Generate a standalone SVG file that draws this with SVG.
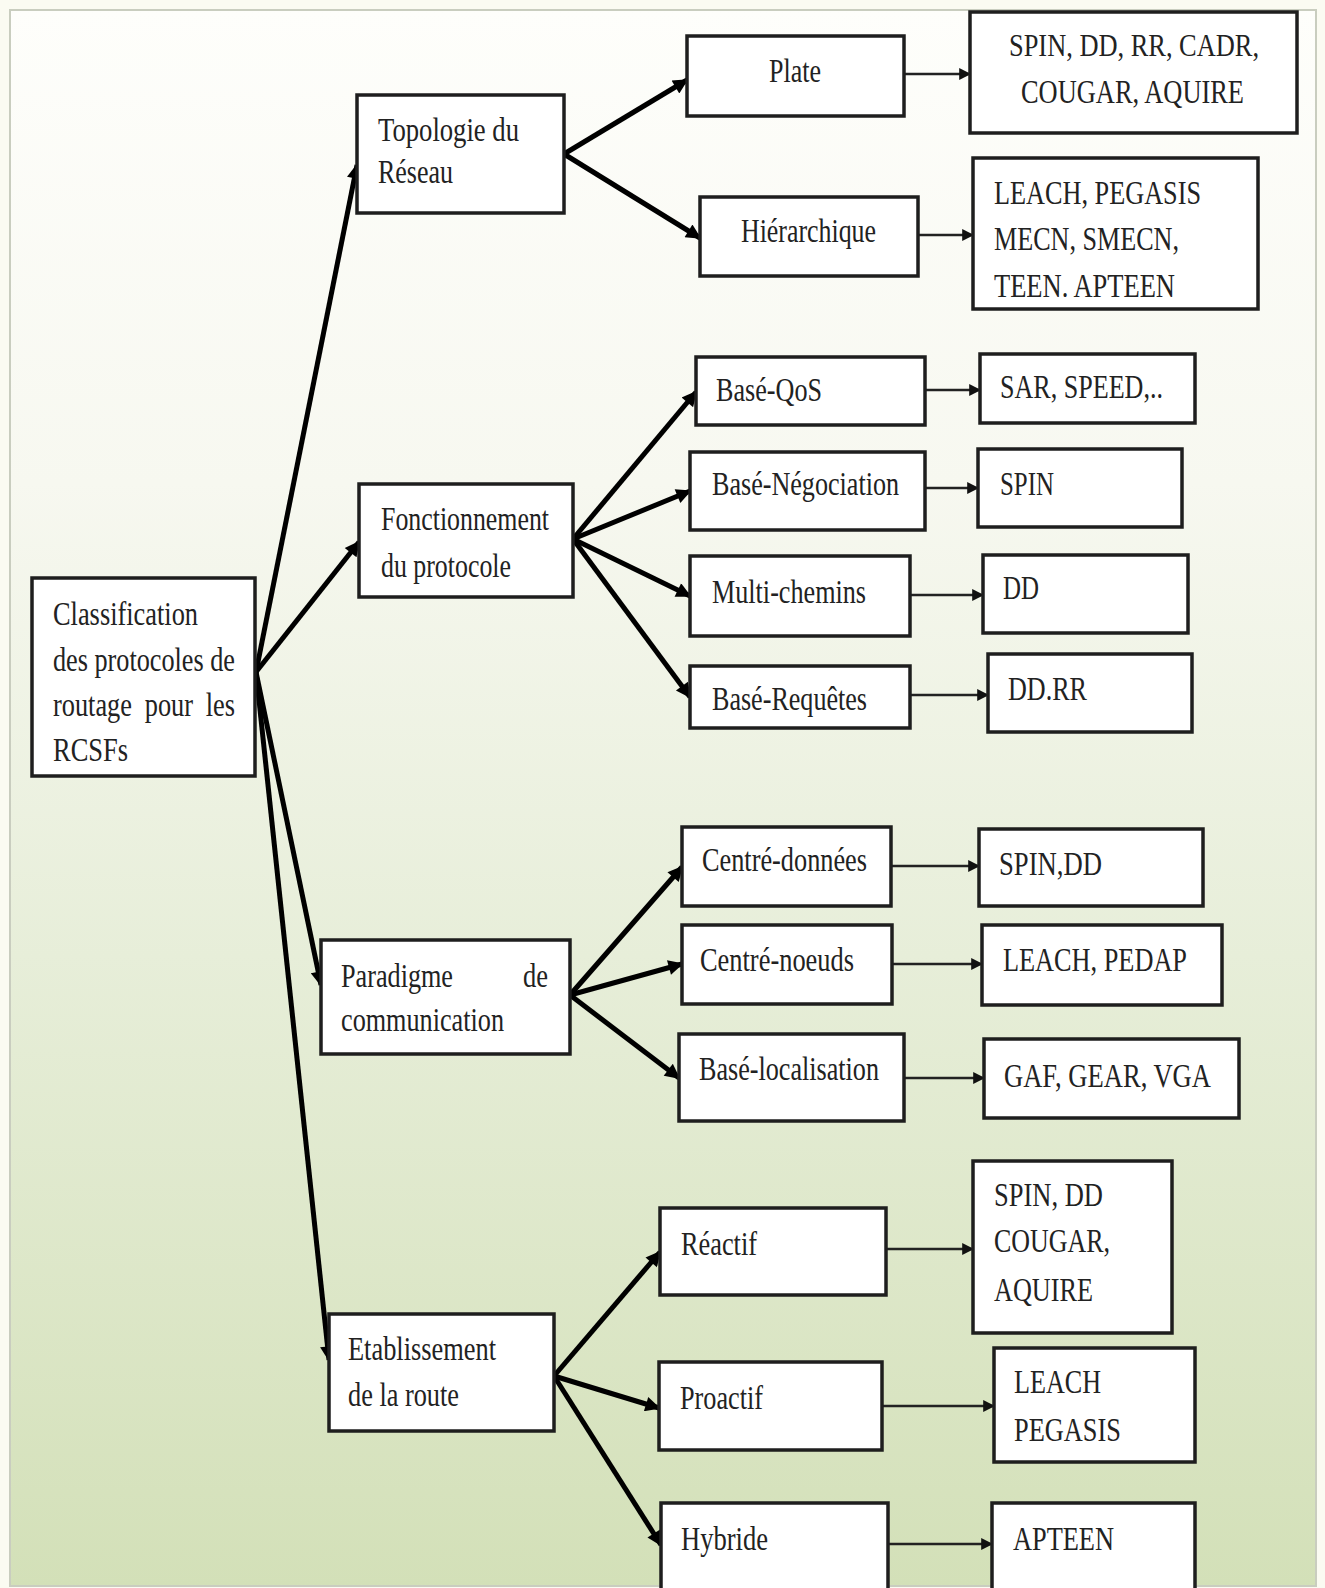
<svg xmlns="http://www.w3.org/2000/svg" width="1325" height="1588" viewBox="0 0 1325 1588">
<defs>
<linearGradient id="bg" x1="0" y1="0" x2="0" y2="1">
<stop offset="0" stop-color="#fefefb"/>
<stop offset="0.3" stop-color="#f7f8f0"/>
<stop offset="0.6" stop-color="#e7eed9"/>
<stop offset="1" stop-color="#d3e0b8"/>
</linearGradient>
<marker id="ah" viewBox="0 0 10 10" refX="9" refY="5" markerWidth="20" markerHeight="15" markerUnits="userSpaceOnUse" orient="auto"><path d="M0,0 L10,5 L0,10 z" fill="#000"/></marker>
<marker id="ahs" viewBox="0 0 10 10" refX="9" refY="5" markerWidth="12" markerHeight="12" markerUnits="userSpaceOnUse" orient="auto"><path d="M0,0 L10,5 L0,10 z" fill="#111"/></marker>
<style>
.box{fill:#fff;stroke:#1e1e1e;stroke-width:3.5}
.t{font-family:"Liberation Serif","Times New Roman",serif;font-size:34px;fill:#222}
.thick{stroke:#000;stroke-width:5;fill:none;marker-end:url(#ah)}
.thin{stroke:#222;stroke-width:2.5;fill:none;marker-end:url(#ahs)}
</style>
</defs>
<rect x="0" y="0" width="1325" height="1588" fill="#fbfbf2"/>
<rect x="10" y="10" width="1306" height="1576" fill="url(#bg)" stroke="#c9cdbf" stroke-width="2"/>

<g id="connectors">
<line class="thick" x1="256" y1="672" x2="357" y2="165"/>
<line class="thick" x1="256" y1="672" x2="359" y2="542"/>
<line class="thick" x1="256" y1="672" x2="321" y2="985"/>
<line class="thick" x1="256" y1="672" x2="329" y2="1360"/>
<line class="thick" x1="564" y1="154" x2="687" y2="80"/>
<line class="thick" x1="564" y1="154" x2="700" y2="238"/>
<line class="thick" x1="573" y1="539" x2="696" y2="392"/>
<line class="thick" x1="573" y1="539" x2="690" y2="491"/>
<line class="thick" x1="573" y1="539" x2="690" y2="596"/>
<line class="thick" x1="573" y1="539" x2="690" y2="697"/>
<line class="thick" x1="570" y1="995" x2="682" y2="867"/>
<line class="thick" x1="570" y1="995" x2="682" y2="964"/>
<line class="thick" x1="570" y1="995" x2="679" y2="1078"/>
<line class="thick" x1="554" y1="1376" x2="660" y2="1252"/>
<line class="thick" x1="554" y1="1376" x2="659" y2="1408"/>
<line class="thick" x1="554" y1="1376" x2="661" y2="1545"/>
<line class="thin" x1="904" y1="74" x2="970" y2="74"/>
<line class="thin" x1="918" y1="235" x2="973" y2="235"/>
<line class="thin" x1="925" y1="390" x2="980" y2="390"/>
<line class="thin" x1="925" y1="488" x2="978" y2="488"/>
<line class="thin" x1="910" y1="595" x2="983" y2="595"/>
<line class="thin" x1="910" y1="695" x2="988" y2="695"/>
<line class="thin" x1="891" y1="866" x2="979" y2="866"/>
<line class="thin" x1="892" y1="964" x2="982" y2="964"/>
<line class="thin" x1="904" y1="1078" x2="984" y2="1078"/>
<line class="thin" x1="886" y1="1249" x2="973" y2="1249"/>
<line class="thin" x1="882" y1="1406" x2="994" y2="1406"/>
<line class="thin" x1="888" y1="1544" x2="992" y2="1544"/>
</g>

<g id="root">
<rect class="box" x="32" y="578" width="223" height="198"/>
<text class="t"><tspan x="53" y="625" textLength="145" lengthAdjust="spacingAndGlyphs">Classification</tspan><tspan x="53" y="671" textLength="182" lengthAdjust="spacingAndGlyphs">des protocoles de</tspan><tspan x="53" y="716" word-spacing="8" textLength="182" lengthAdjust="spacingAndGlyphs">routage pour les</tspan><tspan x="53" y="761" textLength="75" lengthAdjust="spacingAndGlyphs">RCSFs</tspan></text>
</g>

<g id="topologie">
<rect class="box" x="357" y="95" width="207" height="118"/>
<text class="t"><tspan x="378" y="141" textLength="141" lengthAdjust="spacingAndGlyphs">Topologie du</tspan><tspan x="378" y="183" textLength="75" lengthAdjust="spacingAndGlyphs">Réseau</tspan></text>
</g>
<g id="plate">
<rect class="box" x="687" y="36" width="217" height="80"/>
<text class="t" x="769" y="82" textLength="52" lengthAdjust="spacingAndGlyphs">Plate</text>
</g>
<g id="plate-protocoles">
<rect class="box" x="970" y="12" width="327" height="121"/>
<text class="t"><tspan x="1009" y="56" font-size="31" textLength="250" lengthAdjust="spacingAndGlyphs">SPIN, DD, RR, CADR,</tspan><tspan x="1021" y="103" textLength="223" lengthAdjust="spacingAndGlyphs">COUGAR, AQUIRE</tspan></text>
</g>
<g id="hierarchique">
<rect class="box" x="700" y="197" width="218" height="79"/>
<text class="t" x="741" y="242" textLength="135" lengthAdjust="spacingAndGlyphs">Hiérarchique</text>
</g>
<g id="hierarchique-protocoles">
<rect class="box" x="973" y="158" width="285" height="151"/>
<text class="t"><tspan x="994" y="204" textLength="207" lengthAdjust="spacingAndGlyphs">LEACH, PEGASIS</tspan><tspan x="994" y="250" textLength="185" lengthAdjust="spacingAndGlyphs">MECN, SMECN,</tspan><tspan x="994" y="297" textLength="181" lengthAdjust="spacingAndGlyphs">TEEN. APTEEN</tspan></text>
</g>

<g id="fonctionnement">
<rect class="box" x="359" y="484" width="214" height="113"/>
<text class="t"><tspan x="381" y="530" textLength="168" lengthAdjust="spacingAndGlyphs">Fonctionnement</tspan><tspan x="381" y="577" textLength="130" lengthAdjust="spacingAndGlyphs">du protocole</tspan></text>
</g>
<g id="qos">
<rect class="box" x="696" y="357" width="229" height="68"/>
<text class="t" x="716" y="401" textLength="106" lengthAdjust="spacingAndGlyphs">Basé-QoS</text>
</g>
<g id="qos-protocoles">
<rect class="box" x="980" y="354" width="215" height="69"/>
<text class="t" x="1000" y="398" textLength="163" lengthAdjust="spacingAndGlyphs">SAR, SPEED,..</text>
</g>
<g id="negociation">
<rect class="box" x="690" y="452" width="235" height="78"/>
<text class="t" x="712" y="495" textLength="187" lengthAdjust="spacingAndGlyphs">Basé-Négociation</text>
</g>
<g id="negociation-protocoles">
<rect class="box" x="978" y="449" width="204" height="78"/>
<text class="t" x="1000" y="495" textLength="54" lengthAdjust="spacingAndGlyphs">SPIN</text>
</g>
<g id="multichemins">
<rect class="box" x="690" y="556" width="220" height="80"/>
<text class="t" x="712" y="603" textLength="154" lengthAdjust="spacingAndGlyphs">Multi-chemins</text>
</g>
<g id="multichemins-protocoles">
<rect class="box" x="983" y="555" width="205" height="78"/>
<text class="t" x="1003" y="599" textLength="36" lengthAdjust="spacingAndGlyphs">DD</text>
</g>
<g id="requetes">
<rect class="box" x="690" y="666" width="220" height="62"/>
<text class="t" x="712" y="710" textLength="155" lengthAdjust="spacingAndGlyphs">Basé-Requêtes</text>
</g>
<g id="requetes-protocoles">
<rect class="box" x="988" y="654" width="204" height="78"/>
<text class="t" x="1008" y="700" textLength="79" lengthAdjust="spacingAndGlyphs">DD.RR</text>
</g>

<g id="paradigme">
<rect class="box" x="321" y="940" width="249" height="114"/>
<text class="t"><tspan x="341" y="987" textLength="112" lengthAdjust="spacingAndGlyphs">Paradigme</tspan><tspan x="523" y="987" textLength="25" lengthAdjust="spacingAndGlyphs">de</tspan><tspan x="341" y="1031" textLength="163" lengthAdjust="spacingAndGlyphs">communication</tspan></text>
</g>
<g id="centre-donnees">
<rect class="box" x="682" y="827" width="209" height="79"/>
<text class="t" x="702" y="871" textLength="165" lengthAdjust="spacingAndGlyphs">Centré-données</text>
</g>
<g id="centre-donnees-protocoles">
<rect class="box" x="979" y="829" width="224" height="77"/>
<text class="t" x="999" y="875" textLength="103" lengthAdjust="spacingAndGlyphs">SPIN,DD</text>
</g>
<g id="centre-noeuds">
<rect class="box" x="682" y="925" width="210" height="79"/>
<text class="t" x="700" y="971" textLength="154" lengthAdjust="spacingAndGlyphs">Centré-noeuds</text>
</g>
<g id="centre-noeuds-protocoles">
<rect class="box" x="982" y="925" width="240" height="80"/>
<text class="t" x="1003" y="971" textLength="184" lengthAdjust="spacingAndGlyphs">LEACH, PEDAP</text>
</g>
<g id="localisation">
<rect class="box" x="679" y="1034" width="225" height="87"/>
<text class="t" x="699" y="1080" textLength="180" lengthAdjust="spacingAndGlyphs">Basé-localisation</text>
</g>
<g id="localisation-protocoles">
<rect class="box" x="984" y="1039" width="255" height="79"/>
<text class="t" x="1004" y="1087" textLength="207" lengthAdjust="spacingAndGlyphs">GAF, GEAR, VGA</text>
</g>

<g id="etablissement">
<rect class="box" x="329" y="1314" width="225" height="117"/>
<text class="t"><tspan x="348" y="1360" textLength="148" lengthAdjust="spacingAndGlyphs">Etablissement</tspan><tspan x="348" y="1406" textLength="111" lengthAdjust="spacingAndGlyphs">de la route</tspan></text>
</g>
<g id="reactif">
<rect class="box" x="660" y="1208" width="226" height="87"/>
<text class="t" x="681" y="1255" textLength="76" lengthAdjust="spacingAndGlyphs">Réactif</text>
</g>
<g id="reactif-protocoles">
<rect class="box" x="973" y="1161" width="199" height="172"/>
<text class="t"><tspan x="994" y="1206" textLength="109" lengthAdjust="spacingAndGlyphs">SPIN, DD</tspan><tspan x="994" y="1252" textLength="116" lengthAdjust="spacingAndGlyphs">COUGAR,</tspan><tspan x="994" y="1301" textLength="99" lengthAdjust="spacingAndGlyphs">AQUIRE</tspan></text>
</g>
<g id="proactif">
<rect class="box" x="659" y="1362" width="223" height="88"/>
<text class="t" x="680" y="1409" textLength="83" lengthAdjust="spacingAndGlyphs">Proactif</text>
</g>
<g id="proactif-protocoles">
<rect class="box" x="994" y="1348" width="201" height="114"/>
<text class="t"><tspan x="1014" y="1393" textLength="87" lengthAdjust="spacingAndGlyphs">LEACH</tspan><tspan x="1014" y="1441" textLength="107" lengthAdjust="spacingAndGlyphs">PEGASIS</tspan></text>
</g>
<g id="hybride">
<rect class="box" x="661" y="1503" width="227" height="100"/>
<text class="t" x="681" y="1550" textLength="87" lengthAdjust="spacingAndGlyphs">Hybride</text>
</g>
<g id="hybride-protocoles">
<rect class="box" x="992" y="1503" width="203" height="100"/>
<text class="t" x="1013" y="1550" textLength="101" lengthAdjust="spacingAndGlyphs">APTEEN</text>
</g>
</svg>
